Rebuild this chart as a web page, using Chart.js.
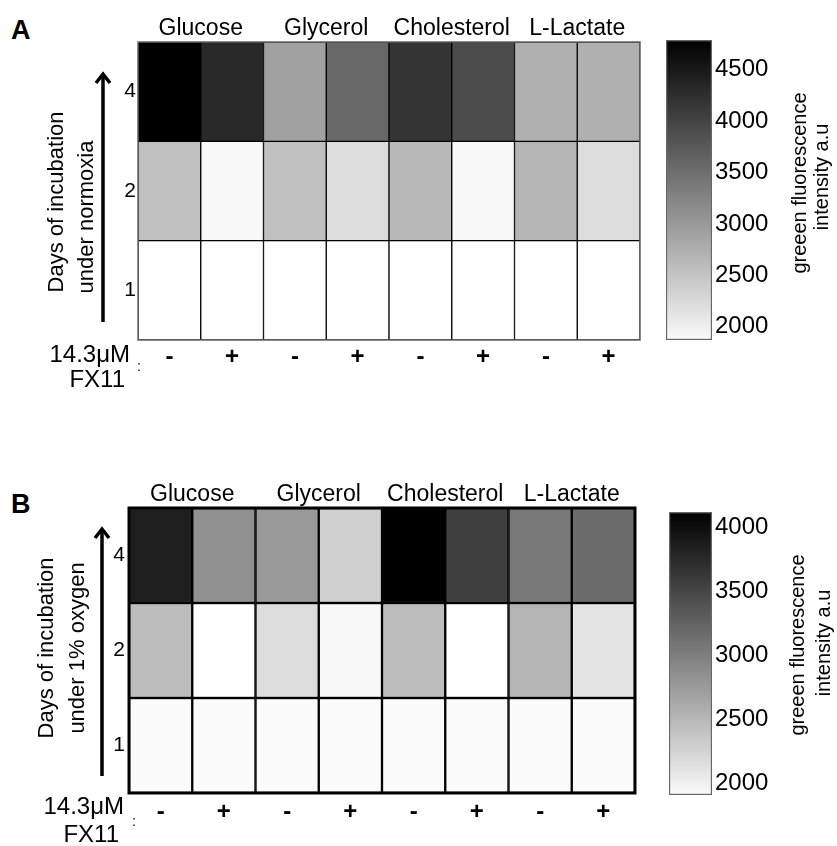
<!DOCTYPE html>
<html>
<head>
<meta charset="utf-8">
<script src="https://cdn.jsdelivr.net/npm/chart.js@4"></script>
<style>
	body { margin: 0; background: #fff; font-family: "Liberation Sans", Arial, sans-serif; }
	#page { position: relative; width: 837px; height: 846px; overflow: hidden; }
	.box { position: absolute; }
	.letter { position: absolute; font-weight: bold; font-size: 27px; line-height: 1; color: #000; }
</style>
</head>
<body>
<div id="page">
	<div class="letter" style="left: 11px; top: 17px">A</div>
	<div class="box" style="left: 0; top: 0"><canvas id="heatA" width="650" height="420"></canvas></div>
	<div class="box" style="left: 660px; top: 0"><canvas id="barA" width="177" height="420"></canvas></div>

	<div class="letter" style="left: 11px; top: 491px">B</div>
	<div class="box" style="left: 0; top: 440px"><canvas id="heatB" width="650" height="406"></canvas></div>
	<div class="box" style="left: 660px; top: 440px"><canvas id="barB" width="177" height="406"></canvas></div>
</div>

<script>
// Categories
const substrates = ["Glucose", "Glycerol", "Cholesterol", "L-Lactate"];
const fx11 = ["-", "+", "-", "+", "-", "+", "-", "+"];
const days = ["1", "2", "4"];

// Panel A: normoxia, green fluorescence (a.u.)
const normoxiaDay1 = [1880, 1880, 1880, 1880, 1880, 1880, 1880, 1880];
const normoxiaDay2 = [2590, 1950, 2590, 2270, 2680, 1950, 2730, 2270];
const normoxiaDay4 = [4790, 4330, 2960, 3600, 4180, 3920, 2780, 2780];
const normoxiaRange = [1870, 4790];
const normoxiaTicks = [2000, 2500, 3000, 3500, 4000, 4500];

// Panel B: 1% oxygen
const hypoxiaDay1 = [1940, 1940, 1940, 1940, 1940, 1940, 1940, 1940];
const hypoxiaDay2 = [2490, 1910, 2210, 1970, 2490, 1910, 2560, 2140];
const hypoxiaDay4 = [3860, 2870, 2780, 2310, 4120, 3560, 3080, 3180];
const hypoxiaRange = [1906, 4117];
const hypoxiaTicks = [2000, 2500, 3000, 3500, 4000];

const FONT = '"Liberation Sans", Arial, sans-serif';
Chart.defaults.font.family = FONT;
Chart.defaults.color = "#000";

function shadeFor(range) {
	const [lo, hi] = range;
	return (v) => {
		let g = Math.round((255 * (hi - v)) / (hi - lo));
		g = Math.max(0, Math.min(255, g));
		return `rgb(${g},${g},${g})`;
	};
}

function heatmap(id, rows, range, o) {
	const shade = shadeFor(range);

	// arrow, rotated axis title, FX11 label, frame
	const decor = {
		id: "decor",
		afterDraw(chart) {
			const ctx = chart.ctx;
			const a = chart.chartArea;
			ctx.save();
			ctx.strokeStyle = o.frameColor;
			ctx.lineWidth = o.frame;
			ctx.strokeRect(a.left, a.top, a.right - a.left, a.bottom - a.top);

			// arrow
			ctx.strokeStyle = "#000";
			ctx.lineWidth = 3.5;
			ctx.beginPath();
			ctx.moveTo(o.arrow.x, o.arrow.bottom);
			ctx.lineTo(o.arrow.x, o.arrow.tip + 2);
			ctx.stroke();
			ctx.lineJoin = "miter";
			ctx.beginPath();
			ctx.moveTo(o.arrow.x - 7, o.arrow.tip + 11);
			ctx.lineTo(o.arrow.x, o.arrow.tip + 2);
			ctx.lineTo(o.arrow.x + 7, o.arrow.tip + 11);
			ctx.stroke();

			// rotated title
			ctx.fillStyle = "#000";
			ctx.font = "22px " + FONT;
			ctx.textAlign = "center";
			ctx.textBaseline = "middle";
			o.title.forEach((t) => {
				ctx.save();
				ctx.translate(t.x, t.y);
				ctx.rotate(-Math.PI / 2);
				ctx.fillText(t.text, 0, 0);
				ctx.restore();
			});

			// treatment label
			ctx.font = "24px " + FONT;
			ctx.textAlign = "right";
			o.treat.forEach((t) => ctx.fillText(t.text, t.x, t.y));
			ctx.font = "14px " + FONT;
			ctx.textAlign = "center";
			ctx.fillText(":", o.colon.x, o.colon.y);
			ctx.restore();
		},
	};

	return new Chart(document.getElementById(id), {
		type: "bar",
		data: {
			labels: fx11,
			datasets: rows.map((vals, i) => ({
				label: "Day " + days[i],
				data: vals.map(() => 1),
				backgroundColor: vals.map(shade),
				borderColor: "#000",
				borderWidth: o.line,
				borderSkipped: false,
				barPercentage: 1,
				categoryPercentage: 1,
			})),
		},
		options: {
			responsive: false,
			animation: false,
			layout: { padding: { left: 0, right: o.padRight, top: 0, bottom: 0 } },
			plugins: { legend: { display: false }, tooltip: { enabled: false } },
			scales: {
				x: {
					stacked: true,
					grid: { display: false, drawTicks: false },
					border: { display: false },
					ticks: {
						font: { size: 24, weight: "bold" },
						padding: o.xPad,
						maxRotation: 0,
						autoSkip: false,
					},
					afterFit: (s) => {
						s.height = o.bottom;
					},
				},
				x2: {
					type: "category",
					labels: substrates,
					position: "top",
					grid: { display: false, drawTicks: false },
					border: { display: false },
					ticks: { font: { size: 23 }, padding: 0, maxRotation: 0, autoSkip: false },
					afterFit: (s) => {
						s.height = o.top;
					},
				},
				y: {
					stacked: true,
					min: 0,
					max: days.length,
					grid: { display: false, drawTicks: false },
					border: { display: false },
					afterBuildTicks: (s) => {
						s.ticks = days.map((d, i) => ({ value: i + 0.5 }));
					},
					ticks: {
						font: { size: 21 },
						padding: o.yPad,
						callback: (v, i) => days[i],
					},
					afterFit: (s) => {
						s.width = o.left;
					},
				},
			},
		},
		plugins: [decor],
	});
}

function colorbar(id, range, ticks, o) {
	const [lo, hi] = range;

	const label = {
		id: "cbLabel",
		afterDraw(chart) {
			const ctx = chart.ctx;
			ctx.save();
			ctx.fillStyle = "#000";
			ctx.font = "20px " + FONT;
			ctx.textAlign = "center";
			ctx.textBaseline = "middle";
			o.title.forEach((t) => {
				ctx.save();
				ctx.translate(t.x, t.y);
				ctx.rotate(-Math.PI / 2);
				ctx.fillText(t.text, 0, 0);
				ctx.restore();
			});
			ctx.restore();
		},
	};

	return new Chart(document.getElementById(id), {
		type: "bar",
		data: {
			labels: [""],
			datasets: [
				{
					data: [[lo, hi]],
					backgroundColor: (c) => {
						const a = c.chart.chartArea;
						if (!a) return "#888";
						const g = c.chart.ctx.createLinearGradient(0, a.bottom, 0, a.top);
						g.addColorStop(0, "#fafafa");
						g.addColorStop(1, "#000");
						return g;
					},
					borderColor: "#666",
					borderWidth: 1.5,
					borderSkipped: false,
					barPercentage: 1,
					categoryPercentage: 1,
				},
			],
		},
		options: {
			responsive: false,
			animation: false,
			layout: { padding: { left: o.padLeft, right: 0, top: o.top, bottom: o.bottom } },
			plugins: { legend: { display: false }, tooltip: { enabled: false } },
			scales: {
				x: { display: false },
				y: {
					position: "right",
					min: lo,
					max: hi,
					grid: { display: false, drawTicks: false },
					border: { display: false },
					afterBuildTicks: (s) => {
						s.ticks = ticks.map((v) => ({ value: v }));
					},
					ticks: { font: { size: 24 }, padding: 3, callback: (v) => String(v) },
					afterFit: (s) => {
						s.width = o.axisWidth;
					},
				},
			},
		},
		plugins: [label],
	});
}

heatmap("heatA", [normoxiaDay1, normoxiaDay2, normoxiaDay4], normoxiaRange, {
	left: 138, padRight: 10, top: 42, bottom: 80,
	xPad: 3, yPad: 2, line: 1, frame: 1.5, frameColor: "#666",
	arrow: { x: 103, tip: 72, bottom: 322 },
	title: [
		{ text: "Days of incubation", x: 57, y: 202 },
		{ text: "under normoxia", x: 87, y: 217 },
	],
	treat: [
		{ text: "14.3\u03BCM", x: 130, y: 355 },
		{ text: "FX11", x: 125, y: 380 },
	],
	colon: { x: 139, y: 367 },
});

colorbar("barA", normoxiaRange, normoxiaTicks, {
	padLeft: 6, axisWidth: 125, top: 40, bottom: 80,
	title: [
		{ text: "greeen fluorescence", x: 140, y: 183 },
		{ text: "intensity a.u", x: 162, y: 177 },
	],
});

heatmap("heatB", [hypoxiaDay1, hypoxiaDay2, hypoxiaDay4], hypoxiaRange, {
	left: 129, padRight: 15, top: 68, bottom: 53,
	xPad: 5, yPad: 4, line: 1.5, frame: 3, frameColor: "#000",
	arrow: { x: 102, tip: 87, bottom: 336 },
	title: [
		{ text: "Days of incubation", x: 47, y: 208 },
		{ text: "under 1% oxygen", x: 78, y: 208 },
	],
	treat: [
		{ text: "14.3\u03BCM", x: 124, y: 367 },
		{ text: "FX11", x: 119, y: 395 },
	],
	colon: { x: 134, y: 382 },
});

colorbar("barB", hypoxiaRange, hypoxiaTicks, {
	padLeft: 9, axisWidth: 125, top: 72, bottom: 51,
	title: [
		{ text: "greeen fluorescence", x: 138, y: 205 },
		{ text: "intensity a.u", x: 164, y: 203 },
	],
});
</script>
</body>
</html>
